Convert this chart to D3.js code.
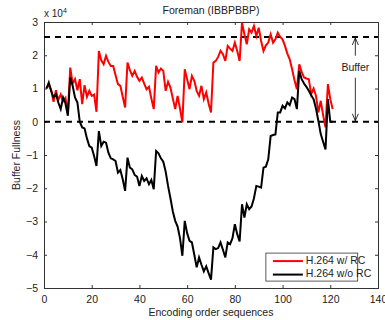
<!DOCTYPE html>
<html>
<head>
<meta charset="utf-8">
<script src="https://cdn.jsdelivr.net/npm/d3@7"></script>
<style>
  body { margin: 0; background: #fff; }
  text { font-family: 'Liberation Sans', Arial, sans-serif; }
</style>
</head>
<body>
<div id="chart"></div>
<script>
// buffer fullness in units of 1e4, one value per encoded frame (1..121)
const withRC = [
  1.00, 1.10, 0.95, 0.60, 0.95, 0.65, 0.82, 0.62, 0.72, 0.25,
  1.63, 1.15, 1.28, 0.95, 1.28, 0.53, 1.10, 0.75, 0.93, 0.78,
  0.82, 0.30, 2.13, 1.85, 1.73, 1.98, 1.80, 1.68, 1.68, 1.40,
  1.13, 1.08, 0.75, 0.43, 1.78, 1.55, 1.38, 1.53, 1.35, 1.23,
  1.33, 1.15, 0.98, 1.05, 0.70, 0.38, 1.68, 1.48, 1.60, 1.53,
  0.93, 1.20, 1.03, 0.70, 0.38, 0.78, 0.40, -0.02, 1.58, 1.28,
  0.98, 1.38, 1.23, 0.93, 0.78, 1.08, 0.68, 0.88, 0.55, 0.28,
  1.78, 1.83, 1.95, 2.13, 2.03, 1.83, 2.28, 2.20, 2.13, 2.38,
  2.13, 1.83, 2.98, 2.63, 2.33, 2.78, 2.68, 2.88, 2.58, 2.83,
  2.43, 2.13, 2.30, 2.38, 2.63, 2.38, 2.48, 2.68, 2.55, 2.48,
  2.28, 2.05, 1.88, 1.58, 1.25, 0.98, 1.73, 1.50, 1.33, 1.30,
  1.28, 0.83, 1.00, 0.78, 0.28, 0.63, 0.20, -0.17, 1.13, 0.68,
  0.38
];
const withoutRC = [
  1.00, 1.18, 0.93, 0.73, 0.83, 0.58, 0.38, 0.73, 0.55, 0.18,
  1.33, 1.08, 0.73, 0.58, 0.00, -0.17, -0.20, -0.50, -0.73, -0.78,
  -1.03, -1.33, -0.28, -0.73, -0.60, -0.63, -0.93, -1.10, -1.13, -1.18,
  -1.53, -1.45, -1.73, -2.08, -1.08, -1.38, -1.43, -1.60, -1.65, -1.93,
  -1.63, -1.78, -1.70, -1.88, -1.75, -2.03, -0.88, -0.95, -1.10, -1.20,
  -1.50, -1.93, -2.30, -2.70, -2.98, -3.15, -3.50, -4.03, -2.98, -3.35,
  -3.58, -3.63, -4.00, -4.38, -4.08, -4.30, -4.50, -4.35, -4.55, -4.75,
  -3.78, -3.83, -3.80, -3.63, -3.85, -4.08, -3.63, -3.68, -3.50, -3.08,
  -3.38, -3.60, -2.48, -2.88, -2.48, -2.63, -2.55, -2.30, -1.93, -1.95,
  -1.98, -1.38, -1.35, -1.13, -0.43, -0.40, -0.38, 0.28, 0.28, 0.48,
  0.40, 0.58, 0.50, 0.73, 0.68, 0.38, 1.53, 1.28, 1.15, 1.05,
  0.93, 0.80, 0.68, 0.40, 0.03, -0.37, -0.60, -0.83, 0.68, 0.00,
  0.00
];
const bufferTop = 2.55;
const bufferBottom = 0;
const xTicks = [0, 20, 40, 60, 80, 100, 120, 140];
const yTicks = [-5, -4, -3, -2, -1, 0, 1, 2, 3];

const series = [
  { label: 'H.264 w/ RC', color: '#ff0000', values: withRC },
  { label: 'H.264 w/o RC', color: '#000000', values: withoutRC },
];

const width = 385;
const height = 320;
const margin = { top: 22, right: 7, bottom: 32, left: 44 };
const innerW = width - margin.left - margin.right;
const innerH = height - margin.top - margin.bottom;

const svg = d3.select('#chart').append('svg').attr('width', width).attr('height', height);
const g = svg.append('g').attr('transform', `translate(${margin.left},${margin.top})`);

const x = d3.scaleLinear().domain([0, 140]).range([0, innerW]);
const y = d3.scaleLinear().domain([-5, 3]).range([innerH, 0]);

const fmt = (d) => (d < 0 ? '\u2212' + Math.abs(d) : String(d));

// axes, matlab style: ticks point inwards, box on all four sides
const axisColor = '#333';
const tickLen = 3;
const xBottom = g.append('g').attr('transform', `translate(0,${innerH})`)
  .call(d3.axisBottom(x).tickValues(xTicks).tickSize(-tickLen).tickPadding(6).tickFormat(fmt));
const xTop = g.append('g').call(d3.axisTop(x).tickValues(xTicks).tickSize(-tickLen).tickFormat(''));
const yLeft = g.append('g')
  .call(d3.axisLeft(y).tickValues(yTicks).tickSize(-tickLen).tickPadding(6).tickFormat(fmt));
const yRight = g.append('g').attr('transform', `translate(${innerW},0)`)
  .call(d3.axisRight(y).tickValues(yTicks).tickSize(-tickLen).tickFormat(''));

[xBottom, xTop, yLeft, yRight].forEach((a) => {
  a.select('.domain').attr('stroke', axisColor);
  a.selectAll('.tick line').attr('stroke', axisColor);
  a.selectAll('.tick text').attr('fill', '#222').style('font-size', '10.5px');
});
xBottom.selectAll('.tick text').attr('dy', '0.9em');

// buffer limits
[bufferTop, bufferBottom].forEach((v) => {
  g.append('line')
    .attr('x1', 0).attr('x2', innerW)
    .attr('y1', y(v)).attr('y2', y(v))
    .attr('stroke', '#000')
    .attr('stroke-width', 2)
    .attr('stroke-dasharray', '6,5');
});

// series
const line = d3.line().x((d, i) => x(i + 1)).y((d) => y(d));
series.forEach((s) => {
  g.append('path')
    .datum(s.values)
    .attr('fill', 'none')
    .attr('stroke', s.color)
    .attr('stroke-width', 2)
    .attr('stroke-linejoin', 'miter')
    .attr('d', line);
});

// buffer double arrow annotation
const ax = x(130.5);
const labelY = y((bufferTop + bufferBottom) / 2 + 0.35);
const arrow = g.append('g').attr('stroke', '#000').attr('stroke-width', 0.8).attr('fill', 'none');
arrow.append('line').attr('x1', ax).attr('x2', ax).attr('y1', y(bufferTop) + 1).attr('y2', labelY - 12);
arrow.append('line').attr('x1', ax).attr('x2', ax).attr('y1', labelY + 10).attr('y2', y(bufferBottom) - 1);
arrow.append('path').attr('d', `M${ax - 3},${y(bufferTop) + 8}L${ax},${y(bufferTop) + 1}L${ax + 3},${y(bufferTop) + 8}`);
arrow.append('path').attr('d', `M${ax - 3},${y(bufferBottom) - 8}L${ax},${y(bufferBottom) - 1}L${ax + 3},${y(bufferBottom) - 8}`);
g.append('text')
  .attr('x', ax).attr('y', labelY)
  .attr('text-anchor', 'middle')
  .attr('dominant-baseline', 'middle')
  .style('font-size', '10.5px')
  .attr('fill', '#222')
  .text('Buffer');

// legend
const legend = g.append('g').attr('transform', `translate(${x(93)},${y(-3.95)})`);
legend.append('rect')
  .attr('width', x(131.5) - x(93)).attr('height', 28)
  .attr('fill', '#fff').attr('stroke', axisColor).attr('stroke-width', 0.8);
series.forEach((s, i) => {
  const ly = 8 + i * 13.5;
  legend.append('line')
    .attr('x1', 7).attr('x2', 37).attr('y1', ly).attr('y2', ly)
    .attr('stroke', s.color).attr('stroke-width', 2);
  legend.append('text')
    .attr('x', 40).attr('y', ly)
    .attr('dominant-baseline', 'middle')
    .style('font-size', '10.5px')
    .attr('fill', '#222')
    .text(s.label);
});

// title, exponent and axis labels
svg.append('text')
  .attr('x', margin.left + innerW / 2).attr('y', 14)
  .attr('text-anchor', 'middle')
  .style('font-size', '10.5px')
  .attr('fill', '#222')
  .text('Foreman (IBBPBBP)');

const expo = svg.append('text').attr('x', margin.left).attr('y', 17).style('font-size', '10px').attr('fill', '#222');
expo.append('tspan').text('x 10');
expo.append('tspan').attr('dy', -4).style('font-size', '7px').text('4');

svg.append('text')
  .attr('x', margin.left + innerW / 2).attr('y', height - 4)
  .attr('text-anchor', 'middle')
  .style('font-size', '10.5px')
  .attr('fill', '#222')
  .text('Encoding order sequences');

svg.append('text')
  .attr('transform', `translate(20,${margin.top + innerH / 2}) rotate(-90)`)
  .attr('text-anchor', 'middle')
  .style('font-size', '10.5px')
  .attr('fill', '#222')
  .text('Buffer Fullness');
</script>
</body>
</html>
